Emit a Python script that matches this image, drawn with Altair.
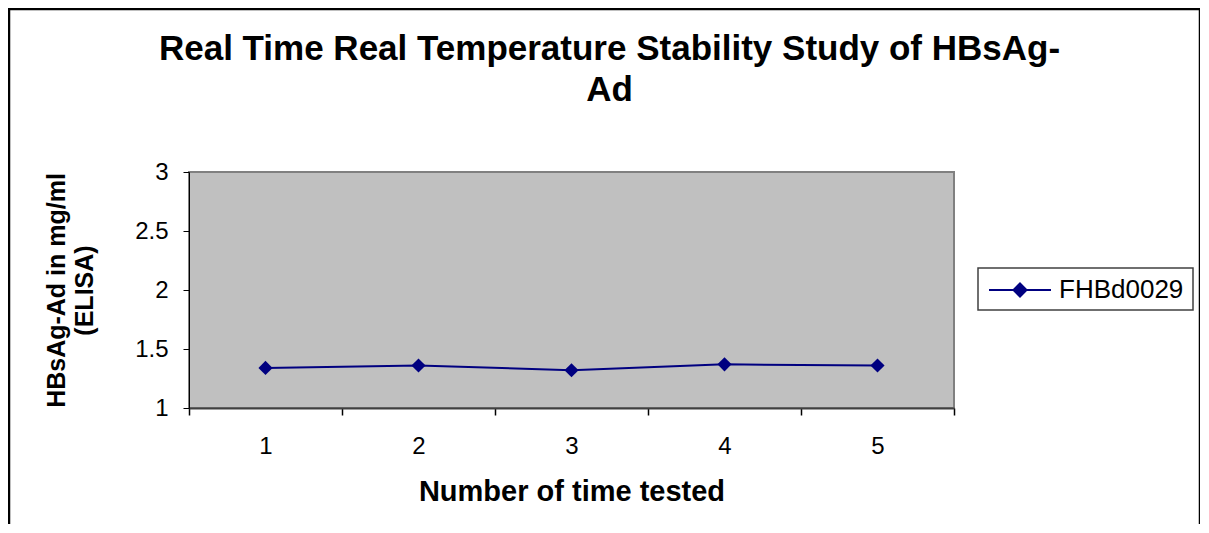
import altair as alt
import pandas as pd

# Data
tests = [1, 2, 3, 4, 5]
values = [1.34, 1.36, 1.32, 1.37, 1.36]
series = ["FHBd0029"] * 5

title_lines = ["Real Time Real Temperature Stability Study of HBsAg-", "Ad"]
y_title = ["HBsAg-Ad in mg/ml", "(ELISA)"]
x_title = "Number of time tested"
y_ticks = [1, 1.5, 2, 2.5, 3]

FONT = "Liberation Sans"
NAVY = "#000080"

df = pd.DataFrame({"test": tests, "value": values, "series": series})
one = pd.DataFrame({"a": [0]})

base = alt.Chart(df)

x_enc = alt.X(
    "test:O",
    scale=alt.Scale(type="band", paddingInner=0, paddingOuter=0),
    axis=alt.Axis(
        title=x_title,
        labelAngle=0,
        tickBand="extent",
        tickSize=7,
        tickColor="#000000",
        tickWidth=1.5,
        domainColor="#404040",
        domainWidth=2,
        labelFont=FONT,
        labelFontSize=24,
        labelColor="#000000",
        labelPadding=19,
        titleFont=FONT,
        titleFontSize=29,
        titleFontWeight="bold",
        titleColor="#000000",
        titlePadding=19,
    ),
)

y_enc = alt.Y(
    "value:Q",
    scale=alt.Scale(domain=[1, 3], nice=False, zero=False),
    axis=alt.Axis(
        title=y_title,
        values=y_ticks,
        format=".1~f",
        grid=False,
        tickSize=6,
        tickColor="#000000",
        domainColor="#000000",
        domainWidth=1,
        labelFont=FONT,
        labelFontSize=24,
        labelColor="#000000",
        labelPadding=15,
        titleFont=FONT,
        titleFontSize=25,
        titleFontWeight="bold",
        titleColor="#000000",
        titleAngle=-90,
        titleLineHeight=28,
        titleBaseline="middle",
        titleAlign="center",
        titleX=-133,
        titleY=118,
    ),
)

color_enc = alt.Color(
    "series:N",
    scale=alt.Scale(range=[NAVY]),
    legend=alt.Legend(
        title=None,
        orient="none",
        legendX=799,
        legendY=86,
        padding=0,
        labelFont=FONT,
        labelFontSize=26,
        labelColor="#000000",
        labelOffset=7,
        symbolType="M-1,0L1,0M0,-0.21L0.21,0L0,0.21L-0.21,0Z",
        symbolSize=3844,
        symbolFillColor=NAVY,
        symbolStrokeColor=NAVY,
        symbolStrokeWidth=2,
    ),
)

# chart-area border (decoration)
frame = alt.Chart(one).mark_rect(
    filled=False, stroke="#000000", strokeWidth=2.5
).encode(
    x=alt.value(-180), x2=alt.value(1011), y=alt.value(-163), y2=alt.value(420)
)

# legend box (decoration)
legend_box = alt.Chart(one).mark_rect(
    fill="#ffffff", stroke="#404040", strokeWidth=1.5
).encode(
    x=alt.value(789), x2=alt.value(1004), y=alt.value(96), y2=alt.value(138)
)

# chart title
title = alt.Chart(one).mark_text(
    font=FONT,
    fontSize=35,
    fontWeight="bold",
    color="#000000",
    align="center",
    baseline="alphabetic",
    lineHeight=41,
).encode(x=alt.value(420.5), y=alt.value(-112), text=alt.value(title_lines))

line = base.mark_line(color=NAVY, strokeWidth=2).encode(
    x=x_enc, y=y_enc, color=color_enc
)
points = base.mark_point(
    shape="diamond", filled=True, size=200, opacity=1, color=NAVY
).encode(x="test:O", y="value:Q")

chart = (
    alt.layer(frame, legend_box, title, line, points)
    .properties(
        width=765,
        height=236,
        padding={"left": 181, "top": 164, "right": 246, "bottom": 116},
        autosize=alt.AutoSizeParams(type="none"),
        background="#ffffff",
    )
    .configure_view(fill="#C0C0C0", stroke="#808080", strokeWidth=2)
)

chart.save("out.html", embed_options={"renderer": "svg", "actions": False})
